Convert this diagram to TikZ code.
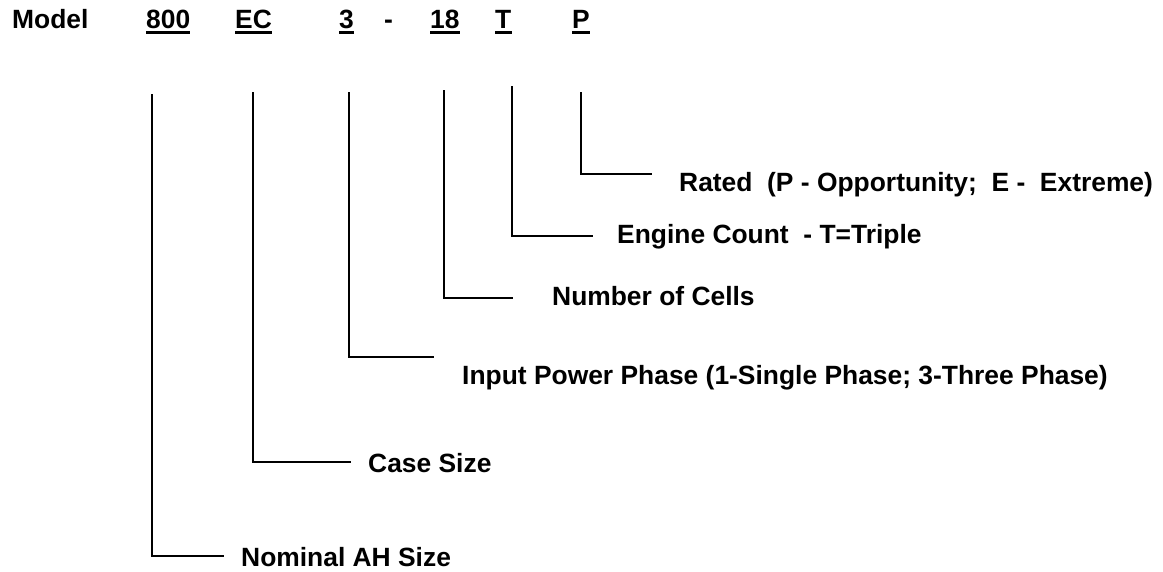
\documentclass[tikz,border=0pt]{standalone}
\usepackage{fontspec}
\setmainfont{Liberation Sans}
\begin{document}
\begin{tikzpicture}[x=1pt,y=-1pt,
  txt/.style={inner sep=0pt, anchor=base west, font=\fontsize{26.4}{30}\selectfont\bfseries},
  code/.style={txt},
  lead/.style={line width=2pt, line cap=rect}]
\useasboundingbox (0,0) rectangle (1163,571);
% header
\node[txt] (model) at (12,28.5) {Model};
\node[code] (c800) at (146,28.5) {800};
\node[code] (cEC) at (235,28.5) {EC};
\node[code] (c3) at (339,28.5) {3};
\node[txt] (dash) at (384,28.5) {-};
\node[code] (c18) at (430,28.5) {18};
\node[code] (cT) at (495,28.5) {T};
\node[code] (cP) at (572,28.5) {P};
\foreach \n in {c800,cEC,c3,c18,cT,cP}
  \draw[line width=2.2pt] ([yshift=-4pt]\n.base west) -- ([yshift=-4pt]\n.base east);
% labels
\node[txt] (lP) at (679,191) {Rated\ \ (P - Opportunity;\ \ E -\ \ Extreme)};
\node[txt] (lT) at (617,243) {Engine Count\ \ - T=Triple};
\node[txt] (l18) at (552,305) {Number of Cells};
\node[txt] (l3) at (462,384) {Input Power Phase (1-Single Phase; 3-Three Phase)};
\node[txt] (lEC) at (368,472) {Case Size};
\node[txt] (l800) at (241,566) {Nominal AH Size};
% leader tops and ends
\coordinate (s800) at (152,95);  \coordinate (e800) at (223,556);
\coordinate (sEC) at (253,93);   \coordinate (eEC) at (350,462);
\coordinate (s3) at (349,93);    \coordinate (e3) at (433,357);
\coordinate (s18) at (444,91);   \coordinate (e18) at (512,298);
\coordinate (sT) at (512,87);    \coordinate (eT) at (592,236);
\coordinate (sP) at (581,93);    \coordinate (eP) at (651,174);
\foreach \n in {800,EC,3,18,T,P}
  \draw[lead] (s\n) |- (e\n);
\end{tikzpicture}
\end{document}
